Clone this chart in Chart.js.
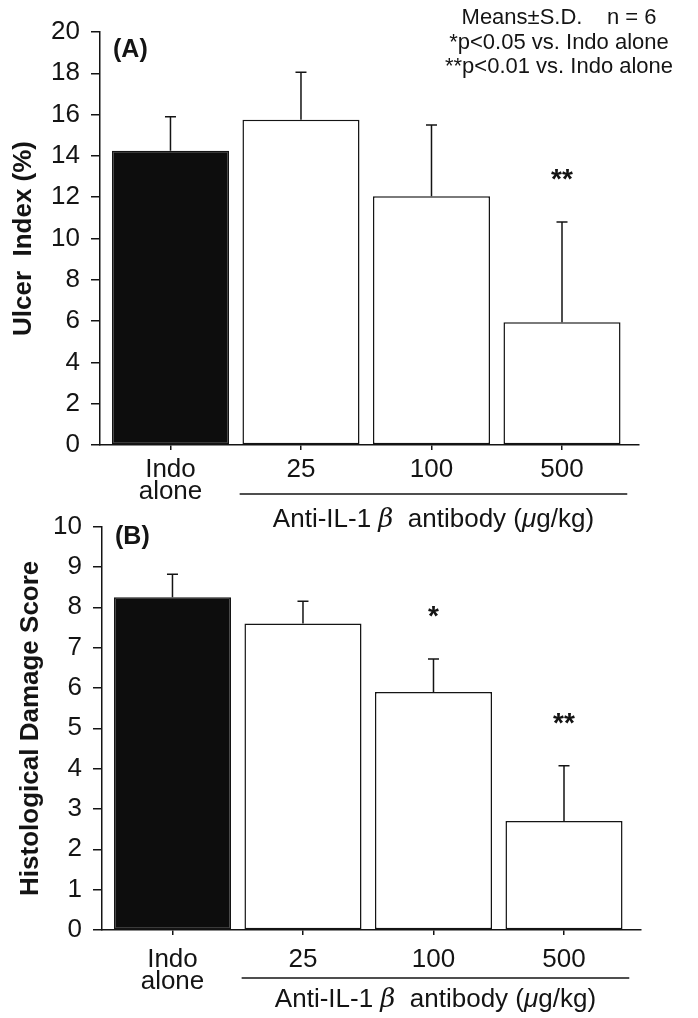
<!DOCTYPE html>
<html>
<head>
<meta charset="utf-8">
<script src="https://cdn.jsdelivr.net/npm/chart.js@4.4.0/dist/chart.umd.min.js"></script>
<style>
  html, body { margin: 0; padding: 0; background: #fff; }
  #wrap { position: relative; width: 698px; height: 1018px; overflow: hidden; }
  canvas { position: absolute; left: 0; }
  #chartA { top: 0; }
  #chartB { top: 500px; }
</style>
</head>
<body>
<div id="wrap">
  <canvas id="chartA" width="698" height="540"></canvas>
  <canvas id="chartB" width="698" height="518"></canvas>
</div>
<script>
// values
const doseLabels = [['Indo', 'alone'], '25', '100', '500'];
const barColors = ['#0d0d0d', '#ffffff', '#ffffff', '#ffffff'];

const ulcerMean = [14.25, 15.75, 12.05, 5.95];
const ulcerSD = [1.65, 2.3, 3.45, 4.85];
const ulcerStars = ['', '', '', '**'];
const ulcerTicks = [0, 2, 4, 6, 8, 10, 12, 14, 16, 18, 20];

const damageMean = [8.25, 7.6, 5.9, 2.7];
const damageSD = [0.57, 0.55, 0.82, 1.37];
const damageStars = ['', '', '*', '**'];
const damageTicks = [0, 1, 2, 3, 4, 5, 6, 7, 8, 9, 10];

const notes = ['Means\u00B1S.D.    n = 6', '*p<0.05 vs. Indo alone', '**p<0.01 vs. Indo alone'];
const groupText = [['Anti-IL-1 ', ''], ['\u03B2', 'serif'], ['  antibody (', ''], ['\u03BC', 'italic'], ['g/kg)', '']];

const FONT = "'Liberation Sans', Arial, Helvetica, sans-serif";
const INK = '#141414';

function drawGroupLabel(ctx, x, y) {
  const parts = groupText.map(([t, kind]) => {
    let f = '26px ' + FONT;
    if (kind === 'serif') f = 'italic 26px "DejaVu Serif", "Liberation Serif", serif';
    if (kind === 'italic') f = 'italic 26px ' + FONT;
    ctx.font = f;
    return { t, f, w: ctx.measureText(t).width };
  });
  const total = parts.reduce((s, p) => s + p.w, 0);
  let px = x - total / 2;
  ctx.textAlign = 'left';
  ctx.textBaseline = 'middle';
  parts.forEach(p => {
    ctx.font = p.f;
    ctx.fillText(p.t, px, y);
    px += p.w;
  });
}

const errorBars = {
  id: 'errorBars',
  afterDatasetsDraw(chart, args, opts) {
    const { ctx, scales: { x, y } } = chart;
    ctx.save();
    ctx.strokeStyle = INK;
    ctx.fillStyle = INK;
    ctx.lineWidth = 1.5;
    opts.means.forEach((m, i) => {
      const px = x.getPixelForValue(i);
      const y0 = y.getPixelForValue(m);
      const y1 = y.getPixelForValue(m + opts.sds[i]);
      ctx.beginPath();
      ctx.moveTo(px, y0);
      ctx.lineTo(px, y1);
      ctx.moveTo(px - 5.5, y1);
      ctx.lineTo(px + 5.5, y1);
      ctx.stroke();
      if (opts.stars[i]) {
        ctx.font = 'bold 28px ' + FONT;
        ctx.textAlign = 'center';
        ctx.textBaseline = 'alphabetic';
        ctx.fillText(opts.stars[i], px, y1 - 34);
      }
    });
    ctx.restore();
  }
};

const panelText = {
  id: 'panelText',
  afterDraw(chart, args, opts) {
    const { ctx, scales: { x }, chartArea } = chart;
    ctx.save();
    ctx.fillStyle = INK;
    ctx.strokeStyle = INK;
    // panel letter
    ctx.font = 'bold 25px ' + FONT;
    ctx.textAlign = 'left';
    ctx.textBaseline = 'middle';
    ctx.fillText(opts.panel, opts.panelX, opts.panelY);
    // bracket under the antibody doses
    const lx0 = x.getPixelForValue(0.53);
    const lx1 = x.getPixelForValue(3.5);
    const ly = chartArea.bottom + opts.lineGap;
    ctx.lineWidth = 1.5;
    ctx.beginPath();
    ctx.moveTo(lx0, ly);
    ctx.lineTo(lx1, ly);
    ctx.stroke();
    drawGroupLabel(ctx, (lx0 + lx1) / 2, chartArea.bottom + opts.textGap);
    // notes block
    if (opts.notes) {
      ctx.font = '22px ' + FONT;
      ctx.textAlign = 'center';
      ctx.textBaseline = 'middle';
      opts.notes.forEach((n, i) => ctx.fillText(n, 559, 18 + i * 24.5));
    }
    ctx.restore();
  }
};

function makeChart(id, means, sds, stars, ticks, yTitle, geo) {
  return new Chart(document.getElementById(id), {
    type: 'bar',
    data: {
      datasets: [{
        data: means.map((v, i) => ({ x: i, y: v })),
        backgroundColor: barColors,
        borderColor: INK,
        borderWidth: 1.5,
        borderSkipped: false,
        barPercentage: 0.897,
        categoryPercentage: 1
      }]
    },
    options: {
      responsive: false,
      animation: false,
      layout: { padding: { top: geo.top, right: geo.right, left: 0, bottom: 0 } },
      plugins: {
        legend: { display: false },
        tooltip: { enabled: false },
        errorBars: { means, sds, stars },
        panelText: geo.text
      },
      scales: {
        x: {
          type: 'linear',
          min: -0.54,
          max: 3.59,
          offset: false,
          afterBuildTicks: s => { s.ticks = doseLabels.map((_, i) => ({ value: i })); },
          afterFit: s => { s.height = geo.xh; },
          grid: { drawOnChartArea: false, offset: false, tickLength: 5, color: INK, lineWidth: 1.5 },
          border: { color: INK, width: 1.5 },
          ticks: {
            autoSkip: false, maxRotation: 0, padding: geo.xpad, color: INK,
            font: { family: FONT, size: 26, lineHeight: 0.88 },
            callback: (v, i) => doseLabels[i]
          }
        },
        y: {
          min: ticks[0],
          max: ticks[ticks.length - 1],
          afterBuildTicks: s => { s.ticks = ticks.map(v => ({ value: v })); },
          afterFit: s => { s.width = geo.yw; },
          grid: { drawOnChartArea: false, tickLength: 9, color: INK, lineWidth: 1.5 },
          border: { color: INK, width: 1.5 },
          ticks: { padding: 11, color: INK, font: { family: FONT, size: 26 } },
          title: {
            display: true, text: yTitle, color: INK,
            font: { family: FONT, size: 26, weight: 'bold' },
            padding: { top: geo.titlePad, bottom: 0 }
          }
        }
      }
    },
    plugins: [errorBars, panelText]
  });
}

makeChart('chartA', ulcerMean, ulcerSD, ulcerStars, ulcerTicks, 'Ulcer  Index (%)', {
  top: 32, right: 59, xh: 95, yw: 100, xpad: 8, titlePad: 8,
  text: { panel: '(A)', panelX: 113, panelY: 50, lineGap: 49, textGap: 75, notes }
});

makeChart('chartB', damageMean, damageSD, damageStars, damageTicks, 'Histological Damage Score', {
  top: 20, right: 57, xh: 88, yw: 102, xpad: 13, titlePad: 15,
  text: { panel: '(B)', panelX: 115, panelY: 37, lineGap: 48, textGap: 70, notes: null }
});
</script>
</body>
</html>
